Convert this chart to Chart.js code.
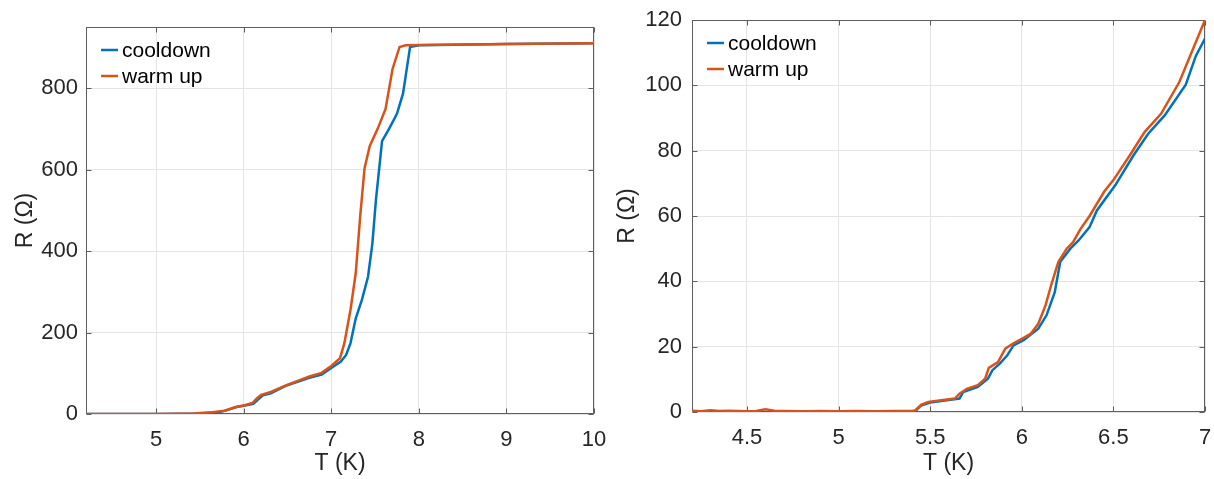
<!DOCTYPE html>
<html>
<head>
<meta charset="utf-8">
<script src="https://cdn.jsdelivr.net/npm/chart.js@4.4.1/dist/chart.umd.min.js"></script>
<style>
  html, body { margin: 0; padding: 0; background: #fff; }
  #wrap { position: relative; width: 1214px; height: 479px; overflow: hidden; }
  canvas { position: absolute; top: 0; }
</style>
</head>
<body>
<div id="wrap">
  <canvas id="left" width="607" height="479" style="left:0"></canvas>
  <canvas id="right" width="607" height="479" style="left:607px"></canvas>
</div>
<script>
// ---- data ----
// left panel: full transition
const leftCoolT = [4.2, 5.0, 5.62, 5.72, 5.82, 5.92, 6.0, 6.11, 6.16, 6.22, 6.31, 6.49, 6.75, 6.89, 7.0, 7.11, 7.17, 7.22, 7.28, 7.35, 7.42, 7.47, 7.51, 7.55, 7.58, 7.66, 7.75, 7.82, 7.86, 7.90, 8.0, 9.0, 10.0];
const leftCoolR = [0, 0, 1, 4, 10, 17, 20, 25, 35, 46, 51, 70, 89, 97, 113, 129, 145, 174, 235, 280, 337, 419, 525, 607, 670, 700, 737, 787, 844, 901, 905, 908, 910];
const leftWarmT = [4.2, 5.0, 5.43, 5.62, 5.78, 5.91, 6.0, 6.1, 6.15, 6.2, 6.31, 6.49, 6.75, 6.89, 7.0, 7.1, 7.15, 7.22, 7.28, 7.33, 7.38, 7.44, 7.53, 7.62, 7.70, 7.78, 7.85, 8.0, 9.0, 10.0];
const leftWarmR = [0, 0, 1, 4, 8, 17, 21, 27, 38, 47, 54, 71, 92, 101, 118, 137, 174, 256, 346, 484, 603, 658, 700, 749, 847, 901, 905, 906, 908, 910];

// right panel: zoom on the foot of the transition
const rightCoolT = [4.2, 4.3, 4.4, 4.5, 4.56, 4.6, 4.64, 4.7, 4.8, 4.9, 5.0, 5.1, 5.2, 5.3, 5.4, 5.42, 5.45, 5.5, 5.56, 5.66, 5.68, 5.76, 5.815, 5.84, 5.88, 5.92, 5.955, 6.01, 6.09, 6.135, 6.18, 6.21, 6.265, 6.31, 6.37, 6.41, 6.51, 6.61, 6.69, 6.78, 6.895, 6.95, 7.0];
const rightCoolR = [0.2, 0.1, 0.2, 0.1, 0.0, -0.4, 0.0, 0.1, 0.2, 0.1, 0.1, 0.2, 0.1, 0.1, 0.2, 0.3, 2.0, 2.9, 3.4, 4.1, 6.1, 7.7, 10.2, 12.8, 14.8, 17.3, 20.4, 22.0, 25.5, 29.6, 36.7, 46.0, 50.0, 52.5, 56.6, 61.7, 69.4, 78.6, 85.2, 90.8, 100.2, 109, 114.3];
const rightWarmT = [4.2, 4.25, 4.3, 4.35, 4.4, 4.45, 4.5, 4.55, 4.6, 4.65, 4.7, 4.8, 4.9, 5.0, 5.1, 5.2, 5.3, 5.4, 5.418, 5.45, 5.49, 5.56, 5.635, 5.66, 5.70, 5.76, 5.80, 5.82, 5.87, 5.91, 5.95, 6.0, 6.05, 6.09, 6.13, 6.16, 6.20, 6.245, 6.28, 6.32, 6.37, 6.45, 6.50, 6.59, 6.67, 6.76, 6.86, 7.0];
const rightWarmR = [0.4, 0.2, 0.5, 0.3, 0.4, 0.3, 0.2, 0.3, 0.8, 0.4, 0.3, 0.2, 0.3, 0.2, 0.3, 0.2, 0.3, 0.3, 0.5, 2.2, 3.1, 3.6, 4.1, 5.6, 7.1, 8.2, 10.2, 13.5, 15.3, 19.4, 20.9, 22.4, 24.0, 27.0, 32.7, 38.8, 46.0, 50.0, 52.0, 56.0, 60.0, 67.5, 71.0, 78.6, 85.7, 91.3, 101.0, 120.0];

const leftXTicks = [5, 6, 7, 8, 9, 10];
const leftYTicks = [0, 200, 400, 600, 800];
const rightXTicks = [4.5, 5, 5.5, 6, 6.5, 7];
const rightYTicks = [0, 20, 40, 60, 80, 100, 120];

const seriesNames = ['cooldown', 'warm up'];
const seriesColors = ['#0072BD', '#D95319'];

const FONT = '"Liberation Sans", Arial, Helvetica, sans-serif';
const INK = '#262626';

// zip two arrays into {x, y} points
function pts(xs, ys){
  return xs.map((x, i) => ({ x: x, y: ys[i] }));
}

// box, inward tick marks and an inside legend, MATLAB style
const matlabAxes = {
  id: 'matlabAxes',
  beforeDatasetsDraw(chart){
    const { ctx, chartArea: a, scales } = chart;
    const L = Math.round(a.left) + 0.5, R = Math.round(a.right) - 0.5;
    const T = Math.round(a.top) + 0.5, B = Math.round(a.bottom) - 0.5;
    ctx.save();
    ctx.strokeStyle = '#5e5e5e';
    ctx.lineWidth = 1;
    ctx.strokeRect(L, T, R - L, B - T);
    ctx.beginPath();
    scales.x.ticks.forEach(t => {
      const px = Math.round(scales.x.getPixelForValue(t.value)) + 0.5;
      ctx.moveTo(px, B); ctx.lineTo(px, B - 5);
      ctx.moveTo(px, T); ctx.lineTo(px, T + 5);
    });
    scales.y.ticks.forEach(t => {
      const py = Math.round(scales.y.getPixelForValue(t.value)) + 0.5;
      ctx.moveTo(L, py); ctx.lineTo(L + 5, py);
      ctx.moveTo(R, py); ctx.lineTo(R - 5, py);
    });
    ctx.stroke();
    ctx.restore();
  },
  afterDraw(chart){
    const { ctx, chartArea: a } = chart;
    ctx.save();
    ctx.font = '21px ' + FONT;
    ctx.textBaseline = 'middle';
    ctx.fillStyle = '#000';
    seriesNames.forEach((name, i) => {
      const y = a.top + 23 + i * 26;
      ctx.strokeStyle = seriesColors[i];
      ctx.lineWidth = 2.5;
      ctx.beginPath();
      ctx.moveTo(a.left + 15, y); ctx.lineTo(a.left + 32, y);
      ctx.stroke();
      ctx.fillText(name, a.left + 36, y + 1);
    });
    ctx.restore();
  }
};

// fixed axis sizes, and no extra room for overhanging end labels
function fixSize(prop, size){
  return s => {
    s[prop] = size;
    s.paddingLeft = s.paddingRight = s.paddingTop = s.paddingBottom = 0;
  };
}

function makeChart(id, opts){
  const datasets = [
    { label: seriesNames[0], data: pts(opts.coolT, opts.coolR), borderColor: seriesColors[0], order: 1 },
    { label: seriesNames[1], data: pts(opts.warmT, opts.warmR), borderColor: seriesColors[1], order: 0 }
  ];
  return new Chart(document.getElementById(id), {
    type: 'line',
    data: { datasets },
    options: {
      responsive: false,
      animation: false,
      events: [],
      layout: { padding: opts.padding },
      elements: {
        point: { radius: 0 },
        line: { borderWidth: 2.5, tension: 0, fill: false }
      },
      plugins: { legend: { display: false }, tooltip: { enabled: false } },
      scales: {
        x: {
          type: 'linear',
          min: opts.xMin, max: opts.xMax,
          afterBuildTicks: s => { s.ticks = opts.xTicks.map(v => ({ value: v })); },
          afterFit: fixSize('height', opts.xAxisH),
          grid: { color: '#e4e4e4', drawTicks: false },
          border: { display: false },
          ticks: { color: INK, font: { family: FONT, size: 22 }, padding: 13, maxRotation: 0, autoSkip: false,
                   callback: v => String(v) },
          title: { display: true, text: 'T (K)', color: INK, font: { family: FONT, size: 23 }, padding: { top: 0, bottom: 2 } }
        },
        y: {
          type: 'linear',
          min: opts.yMin, max: opts.yMax,
          afterBuildTicks: s => { s.ticks = opts.yTicks.map(v => ({ value: v })); },
          afterFit: fixSize('width', opts.yAxisW),
          grid: { color: '#e4e4e4', drawTicks: false },
          border: { display: false },
          ticks: { color: INK, font: { family: FONT, size: 22 }, padding: opts.yTickPad, autoSkip: false,
                   callback: v => String(v) },
          title: { display: true, text: 'R (Ω)', color: INK, font: { family: FONT, size: 23 }, padding: { top: opts.yTitlePad, bottom: 0 } }
        }
      }
    },
    plugins: [matlabAxes]
  });
}

makeChart('left', {
  coolT: leftCoolT, coolR: leftCoolR, warmT: leftWarmT, warmR: leftWarmR,
  xMin: 4.2, xMax: 10, yMin: 0, yMax: 950,
  xTicks: leftXTicks, yTicks: leftYTicks,
  padding: { left: 0, top: 27, right: 13, bottom: 0 },
  xAxisH: 65, yAxisW: 86, yTickPad: 8, yTitlePad: 12
});

makeChart('right', {
  coolT: rightCoolT, coolR: rightCoolR, warmT: rightWarmT, warmR: rightWarmR,
  xMin: 4.2, xMax: 7, yMin: 0, yMax: 120,
  xTicks: rightXTicks, yTicks: rightYTicks,
  padding: { left: 0, top: 20, right: 9, bottom: 0 },
  xAxisH: 67, yAxisW: 85, yTickPad: 10, yTitlePad: 7
});
</script>
</body>
</html>
